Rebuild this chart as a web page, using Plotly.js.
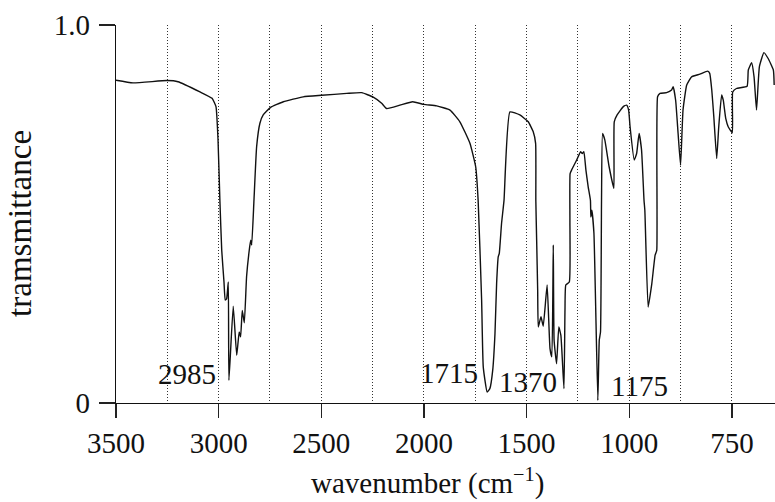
<!DOCTYPE html>
<html>
<head>
<meta charset="utf-8">
<script src="https://cdn.plot.ly/plotly-3.0.1.min.js"></script>
<style>html,body{margin:0;padding:0;background:#fff;}#chart{width:775px;height:502px;}</style>
</head>
<body>
<div id="chart"></div>
<script>
// IR spectrum, wavenumber (cm^-1) vs transmittance
const wavenumber = [3500,3417,3252,3198,3091,3032,3013,3003,2994,2985,2974,2968,2961,2953,2950,2929,2912,2900,2893,2885,2875,2864,2851,2844,2839,2828,2815,2799,2783,2747,2685,2588,2498,2376,2303,2247,2206,2182,2117,2055,2000,1938,1873,1825,1776,1748,1736,1719,1711,1692,1679,1665,1654,1646,1638,1633,1622,1610,1581,1533,1492,1468,1456,1455,1451,1446,1443,1430,1419,1400,1386,1377,1370,1366,1354,1343,1333,1318,1313,1309,1292,1289,1288,1281,1256,1237,1229,1221,1211,1200,1189,1187,1182,1172,1153,1146,1140,1135,1130,1119,1098,1075,1073,1059,1029,1013,1003,998,988,982,976,970,964,962,954,945,937,933,931,925,909,897,893,887,881,875,869,860,848,828,809,804,799,794,787,782,775,771,765,759,749,748,739,713,710,702,696,690,683,672,662,649,647];
const transmittance = [0.854,0.847,0.853,0.850,0.823,0.806,0.784,0.696,0.536,0.404,0.320,0.272,0.276,0.320,0.060,0.256,0.126,0.188,0.175,0.245,0.212,0.334,0.404,0.431,0.418,0.536,0.678,0.740,0.762,0.782,0.797,0.810,0.814,0.819,0.821,0.809,0.793,0.779,0.788,0.797,0.790,0.786,0.775,0.744,0.687,0.625,0.536,0.272,0.095,0.029,0.038,0.087,0.184,0.316,0.387,0.396,0.475,0.536,0.770,0.762,0.744,0.718,0.687,0.536,0.431,0.298,0.201,0.228,0.203,0.312,0.144,0.122,0.418,0.166,0.104,0.201,0.179,0.038,0.245,0.312,0.320,0.483,0.607,0.616,0.643,0.665,0.660,0.665,0.616,0.572,0.536,0.492,0.510,0.449,0.007,0.166,0.188,0.536,0.713,0.696,0.625,0.568,0.744,0.762,0.784,0.788,0.775,0.731,0.643,0.660,0.713,0.669,0.536,0.510,0.254,0.316,0.391,0.404,0.810,0.819,0.821,0.828,0.837,0.801,0.713,0.629,0.775,0.841,0.863,0.870,0.878,0.872,0.828,0.757,0.647,0.731,0.815,0.801,0.753,0.731,0.715,0.823,0.832,0.838,0.881,0.900,0.863,0.775,0.890,0.927,0.912,0.881,0.841];

const tickWavenumbers = [3500,3000,2500,2000,1500,1000,750];
const tickLabels = ['3500','3000','2500','2000','1500','1000','750'];
const peakLabels = ['2985','1715','1370','1175'];
const xRangeWavenumber = [3500, 645];

// The axis is compressed by half above 1000 cm^-1 (as in the original figure)
function axisPos(w){ return w >= 1000 ? w : 1000 - 2*(1000 - w); }

const FONT = 'Liberation Serif, Times New Roman, serif';

const trace = {
  x: wavenumber.map(axisPos),
  y: transmittance,
  type: 'scatter',
  mode: 'lines',
  line: {color: '#111', width: 1.4, shape: 'spline', smoothing: 0.4},
  hoverinfo: 'skip'
};

const peakPos = [[0.1077,0.077],[0.506,0.080],[0.625,0.056],[0.794,0.0455]];
const annotations = peakLabels.map((t,i)=>({
  text: t, xref:'paper', yref:'paper', x: peakPos[i][0], y: peakPos[i][1],
  xanchor:'center', yanchor:'middle', showarrow:false,
  font:{family:FONT, size:29, color:'#111'}
}));
annotations.push({
  text:'tramsmittance', xref:'paper', yref:'paper', x:-0.145, y:0.475,
  textangle:-90, xanchor:'center', yanchor:'middle', showarrow:false,
  font:{family:FONT, size:33, color:'#111'}
});
annotations.push({
  text:'wavenumber (cm<sup>−1</sup>)', xref:'paper', yref:'paper', x:0.472, y:-0.262,
  xanchor:'center', yanchor:'bottom', showarrow:false,
  font:{family:FONT, size:29, color:'#111'}
});

const layout = {
  width: 775, height: 502,
  margin: {l:116, r:0, t:25, b:99, pad:0},
  paper_bgcolor:'#fff', plot_bgcolor:'#fff',
  showlegend:false,
  font:{family:FONT, size:29, color:'#111'},
  xaxis: {
    range: xRangeWavenumber.map(axisPos),
    autorange:false,
    tickmode:'array',
    tickvals: tickWavenumbers.map(axisPos),
    ticktext: tickLabels,
    ticks:'outside', ticklen:14, tickwidth:1.3, tickcolor:'#222',
    showline:true, linecolor:'#111', linewidth:1.3,
    showgrid:true, griddash:'1px,2px', gridcolor:'#333', gridwidth:1,
    minor:{tickmode:'linear', tick0:0, dtick:250, ticks:'', showgrid:true, griddash:'1px,2px', gridcolor:'#333', gridwidth:1},
    zeroline:false,
    tickfont:{family:FONT, size:29, color:'#111'}
  },
  yaxis: {
    range:[0,1], autorange:false,
    tickmode:'array', tickvals:[0,1], ticktext:['0','1.0'],
    ticks:'outside', ticklen:16, tickwidth:1.3, tickcolor:'#222',
    ticklabelstandoff: 3,
    showline:true, linecolor:'#111', linewidth:1.3,
    showgrid:false, zeroline:false,
    tickfont:{family:FONT, size:29, color:'#111'}
  },
  annotations: annotations
};

Plotly.newPlot('chart', [trace], layout, {staticPlot:true, displayModeBar:false});
</script>
</body>
</html>
